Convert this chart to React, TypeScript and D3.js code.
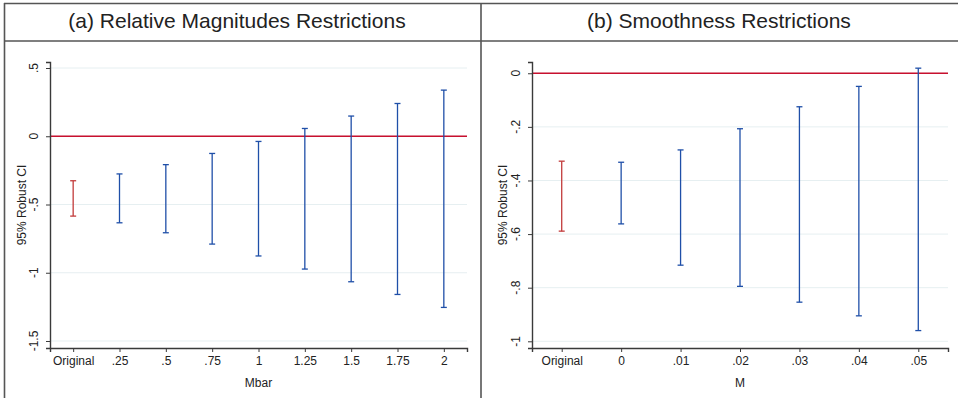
import { useRef, useEffect } from "react";
import * as d3 from "d3";

// panel (a) relative magnitudes
const magCategories = ["Original", ".25", ".5", ".75", "1", "1.25", "1.5", "1.75", "2"];
const magLower = [-0.585, -0.634, -0.707, -0.79, -0.877, -0.973, -1.066, -1.159, -1.254];
const magUpper = [-0.326, -0.276, -0.208, -0.126, -0.038, 0.057, 0.148, 0.24, 0.338];
const magYTicks = [0.5, 0, -0.5, -1, -1.5];
const magYLabels = [".5", "0", "-.5", "-1", "-1.5"];

// panel (b) smoothness
const smoothCategories = ["Original", "0", ".01", ".02", ".03", ".04", ".05"];
const smoothLower = [-0.589, -0.562, -0.716, -0.795, -0.854, -0.905, -0.96];
const smoothUpper = [-0.328, -0.332, -0.286, -0.207, -0.125, -0.049, 0.019];
const smoothYTicks = [0, -0.2, -0.4, -0.6, -0.8, -1];
const smoothYLabels = ["0", "-.2", "-.4", "-.6", "-.8", "-1"];

const W = 958;
const H = 398;
const FONT = "'Liberation Sans Narrow', 'Arial Narrow', 'Liberation Sans', Arial, sans-serif";
const TITLE_FONT = "'Liberation Sans', Arial, Helvetica, sans-serif";
const RED = "#c8102e";
const ORIG_RED = "#c23b3b";
const BLUE = "#1f4fa8";
const GRID = "#e6eff1";
const AXIS = "#3a3a3a";

interface Panel {
  title: string;
  titleX: number;
  categories: string[];
  lower: number[];
  upper: number[];
  yTicks: number[];
  yLabels: string[];
  xTitle: string;
  x0: number;
  x1: number;
  yDomain: [number, number];
  yTickLabelX: number;
  yTitleX: number;
}

const panels: Panel[] = [
  {
    title: "(a) Relative Magnitudes Restrictions",
    titleX: 237,
    categories: magCategories,
    lower: magLower,
    upper: magUpper,
    yTicks: magYTicks,
    yLabels: magYLabels,
    xTitle: "Mbar",
    x0: 50,
    x1: 467,
    yDomain: [-1.5513, 0.544],
    yTickLabelX: 38,
    yTitleX: 26,
  },
  {
    title: "(b) Smoothness Restrictions",
    titleX: 719,
    categories: smoothCategories,
    lower: smoothLower,
    upper: smoothUpper,
    yTicks: smoothYTicks,
    yLabels: smoothYLabels,
    xTitle: "M",
    x0: 532,
    x1: 948,
    yDomain: [-1.025, 0.042],
    yTickLabelX: 520,
    yTitleX: 507,
  },
];

export default function App() {
  const svgRef = useRef<SVGSVGElement>(null);

  useEffect(() => {
    const svg = d3.select(svgRef.current);
    svg.selectAll("*").remove();

    const yTop = 62;
    const yBottom = 348;

    // outer frame
    svg.append("rect")
      .attr("x", 0).attr("y", 0).attr("width", W).attr("height", H)
      .attr("fill", "white");
    const frame = svg.append("g").attr("stroke", "#555").attr("stroke-width", 1.6);
    frame.append("line").attr("x1", 4).attr("x2", W).attr("y1", 3.5).attr("y2", 3.5);
    frame.append("line").attr("x1", 4).attr("x2", W).attr("y1", 41).attr("y2", 41);
    frame.append("line").attr("x1", 4.5).attr("x2", 4.5).attr("y1", 3).attr("y2", H);
    frame.append("line").attr("x1", 481).attr("x2", 481).attr("y1", 3).attr("y2", H);

    panels.forEach(p => {
      const g = svg.append("g");

      svg.append("text")
        .attr("x", p.titleX)
        .attr("y", 28)
        .attr("text-anchor", "middle")
        .attr("font-family", TITLE_FONT)
        .attr("font-size", "21px")
        .attr("fill", "#222")
        .text(p.title);

      const x = d3.scaleLinear()
        .domain([-0.5, p.categories.length - 0.5])
        .range([p.x0, p.x1]);
      const y = d3.scaleLinear()
        .domain(p.yDomain)
        .range([yBottom, yTop]);

      // grid
      g.selectAll(".grid")
        .data(p.yTicks)
        .enter()
        .append("line")
        .attr("x1", p.x0)
        .attr("x2", p.x1)
        .attr("y1", d => y(d))
        .attr("y2", d => y(d))
        .attr("stroke", GRID)
        .attr("stroke-width", 1);

      // zero line
      g.append("line")
        .attr("x1", p.x0)
        .attr("x2", p.x1)
        .attr("y1", y(0))
        .attr("y2", y(0))
        .attr("stroke", RED)
        .attr("stroke-width", 1.3);

      // error bars
      p.categories.forEach((c, i) => {
        const color = i === 0 ? ORIG_RED : BLUE;
        const cx = x(i);
        const bar = g.append("g").attr("stroke", color).attr("stroke-width", 1.3);
        bar.append("line")
          .attr("x1", cx).attr("x2", cx)
          .attr("y1", y(p.upper[i])).attr("y2", y(p.lower[i]));
        [p.upper[i], p.lower[i]].forEach(v => {
          bar.append("line")
            .attr("x1", cx - 3).attr("x2", cx + 3)
            .attr("y1", y(v)).attr("y2", y(v));
        });
      });

      // y axis
      const yAxis = g.append("g")
        .attr("transform", `translate(${p.x0},0)`)
        .call(d3.axisLeft(y).tickValues(p.yTicks).tickSize(4).tickFormat(() => ""));
      yAxis.selectAll("line").attr("stroke", AXIS);
      yAxis.select(".domain").attr("stroke", AXIS).attr("stroke-width", 1.4);

      p.yTicks.forEach((t, i) => {
        g.append("text")
          .attr("transform", `translate(${p.yTickLabelX},${y(t)}) rotate(-90)`)
          .attr("text-anchor", "middle")
          .attr("font-family", FONT)
          .attr("font-size", "12px")
          .attr("fill", "#222")
          .text(p.yLabels[i]);
      });

      g.append("text")
        .attr("transform", `translate(${p.yTitleX},${(yTop + yBottom) / 2}) rotate(-90)`)
        .attr("text-anchor", "middle")
        .attr("font-family", FONT)
        .attr("font-size", "12px")
        .attr("fill", "#222")
        .text("95% Robust CI");

      // x axis
      const xAxis = g.append("g")
        .attr("transform", `translate(0,${yBottom})`)
        .call(d3.axisBottom(x)
          .tickValues(d3.range(p.categories.length))
          .tickSize(4)
          .tickPadding(4)
          .tickFormat((d) => p.categories[d as number]));
      xAxis.selectAll("line").attr("stroke", AXIS);
      xAxis.select(".domain").attr("stroke", AXIS).attr("stroke-width", 1.4);
      xAxis.selectAll("text")
        .attr("font-family", FONT)
        .attr("font-size", "12px")
        .attr("fill", "#222");

      g.append("text")
        .attr("x", (p.x0 + p.x1) / 2)
        .attr("y", 387)
        .attr("text-anchor", "middle")
        .attr("font-family", FONT)
        .attr("font-size", "12px")
        .attr("fill", "#222")
        .text(p.xTitle);
    });
  }, []);

  return (
    <div style={{ position: "absolute", left: 0, top: 0, width: W, height: H }}>
      <svg ref={svgRef} width={W} height={H} style={{ display: "block" }} />
    </div>
  );
}
